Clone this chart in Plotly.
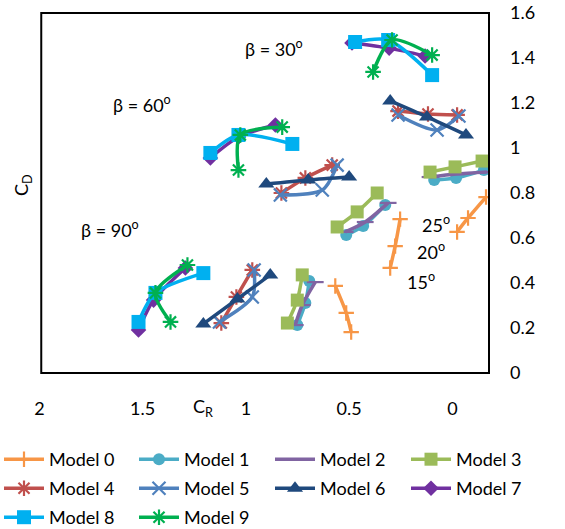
import plotly.graph_objects as go

# ---- data (C_R, C_D); three groups per model (beta = 30, 60, 90), separated by None ----
model0_cr = [-0.163, -0.076, -0.023, None, 0.253, 0.277, 0.301, None, 0.567, 0.514, 0.490]
model0_cd = [0.782, 0.689, 0.627, None, 0.684, 0.564, 0.467, None, 0.387, 0.267, 0.182]

model1_cr = [0.088, -0.018, -0.153, None, 0.514, 0.432, 0.325, None, 0.751, 0.712, 0.693]
model1_cd = [0.858, 0.867, 0.902, None, 0.613, 0.653, 0.747, None, 0.213, 0.311, 0.409]

model2_cr = [0.108, -0.018, -0.168, None, 0.519, 0.422, 0.311, None, 0.761, 0.727, 0.664]
model2_cd = [0.871, 0.884, 0.893, None, 0.627, 0.671, 0.756, None, 0.213, 0.302, 0.404]

model3_cr = [0.108, -0.013, -0.144, None, 0.558, 0.461, 0.364, None, 0.799, 0.751, 0.727]
model3_cd = [0.893, 0.916, 0.942, None, 0.649, 0.716, 0.800, None, 0.222, 0.324, 0.436]

model4_cr = [0.263, 0.118, -0.023, None, 0.828, 0.712, 0.582, None, 1.119, 1.046, 0.969]
model4_cd = [1.164, 1.151, 1.147, None, 0.800, 0.867, 0.924, None, 0.222, 0.338, 0.458]

model5_cr = [0.263, 0.074, -0.032, None, 0.833, 0.630, 0.558, None, 1.128, 0.969, 0.960]
model5_cd = [1.147, 1.080, 1.142, None, 0.791, 0.813, 0.924, None, 0.227, 0.338, 0.458]

model6_cr = [0.301, 0.123, -0.066, None, 0.901, 0.698, 0.500, None, 1.206, 1.041, 0.882]
model6_cd = [1.209, 1.138, 1.058, None, 0.840, 0.858, 0.871, None, 0.218, 0.329, 0.436]

model7_cr = [0.486, 0.306, 0.132, None, 1.172, 1.036, 0.857, None, 1.520, 1.447, 1.293]
model7_cd = [1.467, 1.444, 1.409, None, 0.956, 1.049, 1.102, None, 0.191, 0.324, 0.467]

model8_cr = [0.471, 0.311, 0.098, None, 1.172, 1.036, 0.775, None, 1.520, 1.438, 1.206]
model8_cd = [1.471, 1.480, 1.324, None, 0.978, 1.058, 1.018, None, 0.227, 0.356, 0.444]

model9_cr = [0.384, 0.292, 0.098, None, 1.036, 1.027, 0.824, None, 1.365, 1.438, 1.283]
model9_cd = [1.338, 1.480, 1.413, None, 0.902, 1.058, 1.093, None, 0.227, 0.356, 0.480]

model_names = ["Model 0", "Model 1", "Model 2", "Model 3", "Model 4",
               "Model 5", "Model 6", "Model 7", "Model 8", "Model 9"]
x_ticks = [2, 1.5, 1, 0.5, 0]
x_tick_labels = ["2", "1.5", "1", "0.5", "0"]
y_ticks = [0, 0.2, 0.4, 0.6, 0.8, 1.0, 1.2, 1.4, 1.6]
y_tick_labels = ["0", "0.2", "0.4", "0.6", "0.8", "1", "1.2", "1.4", "1.6"]

xs = [model0_cr, model1_cr, model2_cr, model3_cr, model4_cr,
      model5_cr, model6_cr, model7_cr, model8_cr, model9_cr]
ys = [model0_cd, model1_cd, model2_cd, model3_cd, model4_cd,
      model5_cd, model6_cd, model7_cd, model8_cd, model9_cd]

colors = ["#F79646", "#4BACC6", "#8064A2", "#9BBB59", "#C0504D",
          "#4F81BD", "#1F497D", "#7030A0", "#00B0F0", "#00B050"]
symbols = ["cross-thin", "circle", "line-ew", "square", "asterisk",
           "x-thin", "triangle-up", "diamond", "square", "asterisk"]
sizes = [11, 12, 12, 13, 13, 13, 14, 12, 14, 13]
line_only = {"cross-thin", "line-ew", "asterisk", "x-thin"}

FONT = "Lato"
FS = 18

W, H = 565, 529
L, R, T, B = 39, 76, 13, 156
PW = W - L - R
PH = H - T - B

legend_ids = ["legend", "legend2", "legend3", "legend4"]

fig = go.Figure()
for i, (name, x, y, c, s, sz) in enumerate(zip(model_names, xs, ys, colors, symbols, sizes)):
    mk = dict(symbol=s, size=sz, color=c)
    if s in line_only:
        mk["line"] = dict(width=2.2, color=c)
    else:
        mk["line"] = dict(width=0)
    fig.add_trace(go.Scatter(
        x=x, y=y, name=name, mode="lines+markers",
        line=dict(color=c, width=3.5, shape="spline", smoothing=0.8),
        marker=mk, connectgaps=False,
        legend=legend_ids[i % 4], legendgroup=name,
    ))

col_text_px = [52, 187, 323, 459]
legend_cfg = {}
for k, lid in enumerate(legend_ids):
    legend_cfg[lid] = dict(
        orientation="v", x=(col_text_px[k] - 53 - L) / PW, xanchor="left",
        y=-68 / PH, yanchor="top", itemwidth=40,
        traceorder="grouped", tracegroupgap=2.6,
        font=dict(family=FONT, size=FS, color="black"),
        bgcolor="rgba(0,0,0,0)",
    )

fig.update_layout(
    width=W, height=H,
    margin=dict(l=L, r=R, t=T, b=B, autoexpand=False),
    paper_bgcolor="white", plot_bgcolor="white",
    font=dict(family=FONT, size=FS, color="black"),
    showlegend=True,
    xaxis=dict(
        range=[2.002, -0.1775], tickvals=x_ticks, ticktext=x_tick_labels,
        showgrid=False, zeroline=False, showline=False, ticks="",
        ticklabelstandoff=23, tickfont=dict(family=FONT, size=FS),
    ),
    yaxis=dict(
        range=[0, 1.6], side="right", tickvals=y_ticks, ticktext=y_tick_labels,
        showgrid=False, zeroline=False, showline=False, ticks="",
        ticklabelstandoff=20, tickfont=dict(family=FONT, size=FS),
    ),
    shapes=[dict(type="rect", xref="paper", yref="paper", x0=0.005, x1=1, y0=0, y1=1,
                 line=dict(color="black", width=2), fillcolor="rgba(0,0,0,0)", layer="above")],
    **legend_cfg,
)

ann = [
    ("β = 30<sup>o</sup>", 1.012, 1.444),
    ("β = 60<sup>o</sup>", 1.655, 1.196),
    ("β = 90<sup>o</sup>", 1.810, 0.640),
    ("25<sup>o</sup>", 0.156, 0.662),
    ("20<sup>o</sup>", 0.180, 0.542),
    ("15<sup>o</sup>", 0.229, 0.409),
]
for t, ax_, ay_ in ann:
    fig.add_annotation(text=t, x=ax_, y=ay_, xref="x", yref="y", showarrow=False,
                       xanchor="left", yanchor="middle", font=dict(family=FONT, size=FS))

fig.add_annotation(text="C<sub>D</sub>", xref="paper", yref="paper",
                   x=(22 - L) / PW, y=(373 - 185) / PH, textangle=-90, showarrow=False,
                   xanchor="center", yanchor="middle", font=dict(family=FONT, size=FS))
fig.add_annotation(text="C<sub>R</sub>", xref="paper", yref="paper",
                   x=(203 - L) / PW, y=(373 - 407) / PH, showarrow=False,
                   xanchor="center", yanchor="middle", font=dict(family=FONT, size=FS))

fig.write_html("out.html")
